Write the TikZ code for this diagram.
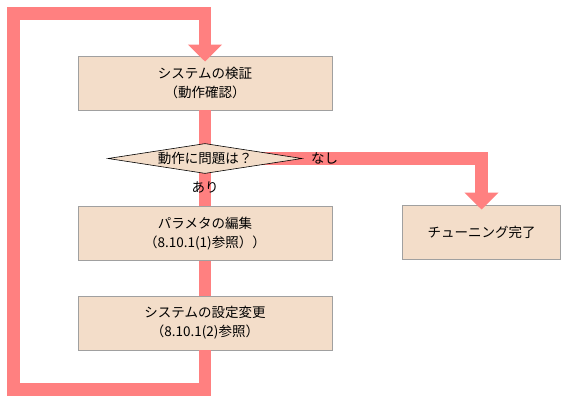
\documentclass[tikz,border=0pt]{standalone}
\usepackage{fontspec}
\setmainfont{Noto Sans CJK JP}
\usepackage{xcolor}
\usetikzlibrary{arrows.meta, positioning, shapes.geometric}

\definecolor{peach}{RGB}{243,221,201}
\definecolor{flowpink}{RGB}{255,128,128}
\definecolor{boxgray}{RGB}{160,160,160}

\begin{document}
\begin{tikzpicture}[
  x=1pt, y=-1pt,
  every node/.style={font=\fontsize{13.5}{19}\selectfont},
  procbox/.style={draw=boxgray, line width=0.9pt, fill=peach, minimum height=54pt, minimum width=254pt, align=center, inner sep=0pt},
  decision/.style={diamond, draw=black, line width=0.6pt, fill=peach, minimum width=194pt, minimum height=30pt, aspect=6.5, inner sep=0pt},
  flow/.style={draw=flowpink, line width=12.5pt},
  tip/.style={-{Triangle[width=33pt, length=17pt, fill=flowpink]}},
  lab/.style={inner sep=1pt}
]
\useasboundingbox (0,0) rectangle (564,401);

\node[procbox] (verify) at (205,83) {システムの検証\\（動作確認）};
\node[procbox] (edit) at (205,233.5) {パラメタの編集\\（8.10.1(1)参照））};
\node[procbox] (setting) at (205,323) {システムの設定変更\\（8.10.1(2)参照）};
\node[procbox, minimum width=158pt] (done) at (481.5,232) {チューニング完了};
\coordinate (q) at (205,158.5);

\draw[flow] (verify.south) -- (edit.north);
\draw[flow] (edit.south) -- (setting.north);
\draw[flow, tip, shorten >=-6pt] (setting.south) -- ++(0,39) -| ++(-191.5,-376) -| (verify.north);
\draw[flow, tip, shorten >=-5pt] (q) -| (done.north);

\node[decision] (check) at (q) {動作に問題は？};
\node[lab, anchor=west] (yes) at (310,158) {なし};
\node[lab] (no) at (205,187) {あり};
\end{tikzpicture}
\end{document}
